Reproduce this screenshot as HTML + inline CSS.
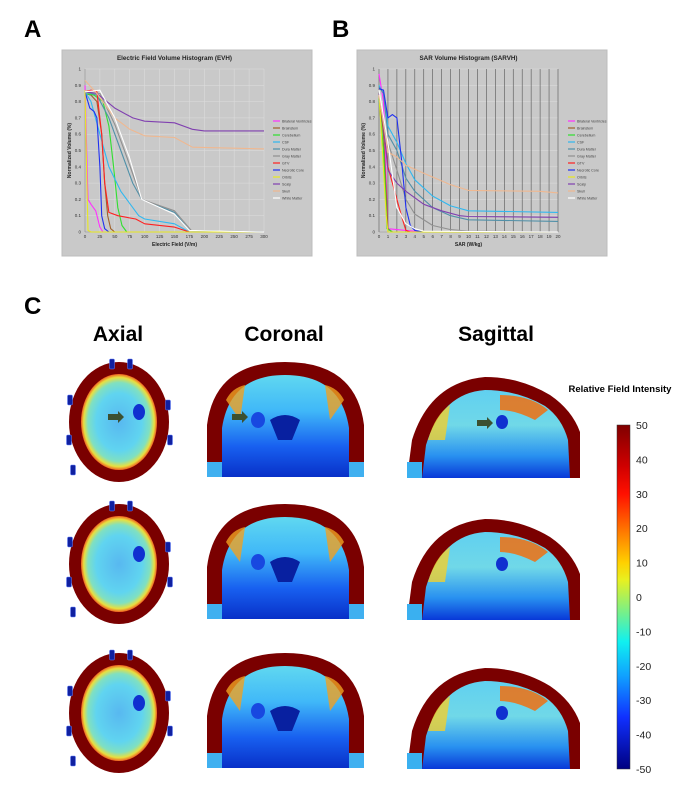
<!DOCTYPE html>
<html><head><meta charset="utf-8">
<style>
body{margin:0;background:#fff;width:700px;height:795px;overflow:hidden;font-family:"Liberation Sans",sans-serif;}
svg{display:block}
</style></head>
<body>
<svg id="root" width="700" height="795" viewBox="0 0 700 795" xmlns="http://www.w3.org/2000/svg">
<defs>
<linearGradient id="jet" x1="0" y1="0" x2="0" y2="1">
<stop offset="0" stop-color="#800000"/><stop offset="0.12" stop-color="#d00000"/><stop offset="0.2" stop-color="#ff1000"/>
<stop offset="0.3" stop-color="#ff7000"/><stop offset="0.4" stop-color="#ffd000"/><stop offset="0.45" stop-color="#e8f020"/>
<stop offset="0.55" stop-color="#70f090"/><stop offset="0.63" stop-color="#10f0f0"/><stop offset="0.73" stop-color="#10a0ff"/>
<stop offset="0.85" stop-color="#1030ff"/><stop offset="1" stop-color="#000080"/>
</linearGradient>
<radialGradient id="axg" cx="0.5" cy="0.5" r="0.5">
<stop offset="0" stop-color="#58b8f0"/><stop offset="0.6" stop-color="#60d4f0"/><stop offset="0.82" stop-color="#80e0c0"/><stop offset="0.93" stop-color="#e8e040"/><stop offset="1" stop-color="#f06020"/>
</radialGradient>
<linearGradient id="cog" x1="0" y1="0" x2="0" y2="1">
<stop offset="0" stop-color="#60d8f0"/><stop offset="0.35" stop-color="#40b8f8"/><stop offset="0.7" stop-color="#1860f0"/><stop offset="1" stop-color="#0830c8"/>
</linearGradient>
<linearGradient id="sag" x1="0" y1="0" x2="0" y2="1">
<stop offset="0" stop-color="#60d0f0"/><stop offset="0.4" stop-color="#70d8e8"/><stop offset="0.75" stop-color="#2890f0"/><stop offset="1" stop-color="#0838d8"/>
</linearGradient>
</defs>

<text x="24" y="37" font-size="24" font-weight="bold">A</text>
<text x="332" y="37" font-size="24" font-weight="bold">B</text>
<text x="24" y="314" font-size="24" font-weight="bold">C</text>

<g id="chartA"></g>
<g id="chartB"></g>

<text x="118" y="341" font-size="21" font-weight="bold" text-anchor="middle">Axial</text>
<text x="284" y="341" font-size="21" font-weight="bold" text-anchor="middle">Coronal</text>
<text x="496" y="341" font-size="21" font-weight="bold" text-anchor="middle">Sagittal</text>
<text x="620" y="392" font-size="9.5" font-weight="bold" text-anchor="middle">Relative Field Intensity</text>

<g id="brains"></g>

<rect x="617" y="425" width="13" height="344" fill="url(#jet)" stroke="#333" stroke-width="0.5"/>
<g id="cbticks"></g>
</svg>
<script>
const NS="http://www.w3.org/2000/svg";
function mk(p,tag,attrs,txt){const e=document.createElementNS(NS,tag);for(const k in attrs)e.setAttribute(k,attrs[k]);if(txt!==undefined)e.textContent=txt;p.appendChild(e);return e;}

const seriesNames=["Bilateral Ventricles","Brainstem","Cerebellum","CSF","Dura Matter","Gray Matter","GTV","Necrotic Core","Orbits","Scalp","Skull","White Matter"];
const seriesColors=["#ff30ff","#a0602a","#30e030","#30b8f0","#5090a8","#909090","#ff2020","#2030f0","#e8e820","#8040b0","#f0b890","#ffffff"];

const evhX=[
[0,5,10,18,25,30,300],
[0,10,20,28,33,38,43,50,300],
[0,15,30,40,48,55,62,70,300],
[0,10,25,40,60,90,100,150,175,300],
[0,20,40,60,80,95,150,175,300],
[0,25,50,70,95,150,178,300],
[0,10,20,28,33,40,55,85,100,150,175,300],
[0,8,15,20,25,28,33,40,300],
[0,2,5,10,300],
[0,20,50,80,100,150,180,200,300],
[0,20,50,75,100,150,180,300],
[0,25,50,75,95,150,175,300]];
const evhY=[
[0.9,0.2,0.17,0.13,0.03,0,0],
[0.85,0.84,0.8,0.6,0.3,0.1,0.02,0,0],
[0.85,0.84,0.8,0.65,0.4,0.15,0.04,0,0],
[0.86,0.8,0.6,0.4,0.25,0.1,0.08,0.05,0,0],
[0.86,0.84,0.7,0.5,0.3,0.2,0.12,0.01,0],
[0.86,0.85,0.66,0.46,0.2,0.13,0.01,0],
[0.86,0.87,0.86,0.6,0.3,0.12,0.1,0.08,0.05,0.03,0,0],
[0.86,0.76,0.74,0.7,0.4,0.1,0.02,0,0],
[0.87,0.5,0.01,0,0],
[0.86,0.85,0.76,0.7,0.68,0.67,0.63,0.62,0.62],
[0.93,0.85,0.7,0.63,0.59,0.58,0.52,0.51],
[0.86,0.87,0.7,0.45,0.2,0.11,0.01,0]];
const evhTicks=[0,25,50,75,100,125,150,175,200,225,250,275,300];

const sarX=[
[0,0.5,1,2,3,5,20],
[0,0.5,1,1.5,20],
[0,0.5,0.9,1.5,20],
[0,0.5,1,2,3,4,6,8,10,20],
[0,0.5,1,2,3,4,6,8,10,20],
[0,1,2,3,4,6,8,10,20],
[0,0.5,1,2,2.5,3,3.5,20],
[0,0.5,1,1.5,2,2.5,3,3.5,4,5,20],
[0,0.8,1,20],
[0,0.5,1,2,3,5,7,9,10,20],
[0,1,2,3,5,8,10,18,20],
[0,1,1.5,2,3,4,5,20]];
const sarY=[
[0.97,0.8,0.02,0.015,0.01,0,0],
[0.85,0.6,0.02,0,0],
[0.82,0.5,0.02,0,0],
[0.9,0.85,0.65,0.55,0.42,0.32,0.22,0.16,0.13,0.12],
[0.89,0.85,0.6,0.5,0.33,0.25,0.15,0.1,0.075,0.065],
[0.83,0.55,0.38,0.2,0.11,0.04,0.015,0.005,0],
[0.85,0.65,0.4,0.2,0.1,0.01,0,0],
[0.88,0.87,0.7,0.72,0.7,0.45,0.15,0.04,0.01,0,0],
[0.85,0.1,0,0],
[0.85,0.65,0.38,0.3,0.25,0.17,0.13,0.1,0.095,0.09],
[0.84,0.49,0.46,0.41,0.36,0.29,0.255,0.25,0.24],
[0.87,0.55,0.35,0.15,0.05,0.02,0.005,0]];
const sarTicks=[0,1,2,3,4,5,6,7,8,9,10,11,12,13,14,15,16,17,18,19,20];
const yTicks=[0,0.1,0.2,0.3,0.4,0.5,0.6,0.7,0.8,0.9,1];

function chart(g,o){
  mk(g,"rect",{x:o.bx,y:50,width:250,height:206,fill:"#c9c9c9",stroke:"#bdbdbd"});
  const x0=o.px,x1=o.px+179,y0=232,y1=69;
  const sx=v=>x0+(v-o.xmin)/(o.xmax-o.xmin)*(x1-x0);
  const sy=v=>y0+(v)*(y1-y0);
  mk(g,"text",{x:(x0+x1)/2,y:60,"font-size":6.3,"font-weight":"bold","text-anchor":"middle",fill:"#222"},o.title);
  yTicks.forEach(t=>{
    const l=mk(g,"line",{x1:x0,x2:x1,y1:sy(t),y2:sy(t),stroke:o.hgrid,"stroke-width":0.5});
    
    const tx=mk(g,"text",{x:x0-4,y:sy(t)+1.5,"font-size":4.5,"text-anchor":"end",fill:"#333"},String(t));
    
  });
  o.ticks.forEach(t=>{
    const l=mk(g,"line",{x1:sx(t),x2:sx(t),y1:y0,y2:y1,stroke:o.vgrid,"stroke-width":o.vw});
    
    const tx=mk(g,"text",{x:sx(t),y:y0+6,"font-size":4.5,"text-anchor":"middle",fill:"#333"},String(t));
    
  });
  mk(g,"line",{x1:x0,x2:x1,y1:y0,y2:y0,stroke:"#888","stroke-width":0.6});
  mk(g,"line",{x1:x0,x2:x0,y1:y0,y2:y1,stroke:"#888","stroke-width":0.6});
  const xt=mk(g,"text",{x:(x0+x1)/2,y:y0+14,"font-size":5,"font-weight":"bold","text-anchor":"middle",fill:"#222"},o.xlabel);
  
  const yt=mk(g,"text",{x:0,y:0,"font-size":5,"font-weight":"bold","text-anchor":"middle",fill:"#222",transform:`translate(${x0-14},${(y0+y1)/2}) rotate(-90)`},"Normalized Volume (%)");
  
  o.X.forEach((xs,i)=>{
    const d=xs.map((v,j)=>(j?"L":"M")+sx(v).toFixed(1)+","+sy(o.Y[i][j]).toFixed(1)).join(" ");
    const p=mk(g,"path",{d:d,fill:"none",stroke:seriesColors[i],"stroke-width":1.1,"stroke-linejoin":"round"});
    
  });
  seriesNames.forEach((n,i)=>{
    const y=121+i*7;
    const l=mk(g,"line",{x1:o.bx+211,x2:o.bx+218,y1:y,y2:y,stroke:seriesColors[i],"stroke-width":1.2});
    
    const t=mk(g,"text",{x:o.bx+220,y:y+1.3,"font-size":3.6,fill:"#444"},n);
    
  });
}
chart(document.getElementById("chartA"),{bx:62,px:85,xmin:0,xmax:300,ticks:evhTicks,X:evhX,Y:evhY,title:"Electric Field Volume Histogram (EVH)",xlabel:"Electric Field (V/m)",hgrid:"#dedede",vgrid:"#dedede",vw:0.5});
chart(document.getElementById("chartB"),{bx:357,px:379,xmin:0,xmax:20,ticks:sarTicks,X:sarX,Y:sarY,title:"SAR Volume Histogram (SARVH)",xlabel:"SAR (W/kg)",hgrid:"#dedede",vgrid:"#555",vw:0.6});

// field maps
const B=document.getElementById("brains");
const rowOff=[0,142,291];
rowOff.forEach(dy=>{
  const g=mk(B,"g",{transform:`translate(0,${dy})`});
  
  // axial
  const a=mk(g,"ellipse",{cx:119,cy:422,rx:50,ry:60,fill:"#7a0000"});
  
  const ai=mk(g,"ellipse",{cx:119,cy:422,rx:38,ry:48,fill:"url(#axg)"});
  
  mk(g,"ellipse",{cx:139,cy:412,rx:6,ry:8,fill:"#1030d0"});
  [[70,400],[69,440],[73,470],[168,405],[170,440],[112,364],[130,364]].forEach(p=>{
    const r=mk(g,"rect",{x:p[0]-2.5,y:p[1]-5,width:5,height:10,fill:"#1020a0",stroke:"#6080ff","stroke-width":0.5,rx:1});
    
  });
  // coronal
  const c=mk(g,"path",{d:"M207,477 L207,425 Q215,362 285,362 Q356,362 364,425 L364,477 Z",fill:"#7a0000"});
  
  const ci=mk(g,"path",{d:"M222,477 L222,428 Q230,375 285,375 Q341,375 349,428 L349,477 Z",fill:"url(#cog)"});
  
  mk(g,"rect",{x:207,y:462,width:15,height:15,fill:"#40b0f0"});
  mk(g,"rect",{x:349,y:462,width:15,height:15,fill:"#40b0f0"});
  mk(g,"path",{d:"M226,400 Q232,388 245,385 L240,420 Z",fill:"#f0a020",opacity:0.8});
  mk(g,"path",{d:"M344,400 Q338,388 325,385 L330,420 Z",fill:"#f0a020",opacity:0.8});
  mk(g,"path",{d:"M270,420 Q285,410 300,420 L292,440 L278,440 Z",fill:"#0820a0"});
  mk(g,"ellipse",{cx:258,cy:420,rx:7,ry:8,fill:"#1848e0"});
  // sagittal
  const s=mk(g,"path",{d:"M407,478 L412,440 Q430,382 485,377 Q520,377 550,395 Q572,410 580,432 L580,478 Z",fill:"#7a0000"});
  
  const si=mk(g,"path",{d:"M422,478 L426,445 Q442,393 485,390 Q517,390 545,406 Q562,418 568,440 L570,478 Z",fill:"url(#sag)"});
  
  mk(g,"rect",{x:407,y:462,width:15,height:16,fill:"#3ab0f0"});
  mk(g,"path",{d:"M500,395 Q530,395 548,410 L535,420 Q515,410 500,410 Z",fill:"#f07010",opacity:0.85});
  mk(g,"path",{d:"M428,440 Q435,415 450,405 L445,440 Z",fill:"#f0d030",opacity:0.8});
  mk(g,"ellipse",{cx:502,cy:422,rx:6,ry:7,fill:"#1030d0"});
});
// arrows (row 1)
[[108,417],[232,417],[477,423]].forEach(p=>{
  const ar=mk(B,"path",{d:`M${p[0]},${p[1]-3} l10,0 l0,-3 l6,6 l-6,6 l0,-3 l-10,0 Z`,fill:"#3c5030"});
  
});
// colorbar ticks
const cbLabels=[50,40,30,20,10,0,-10,-20,-30,-40,-50];
const CB=document.getElementById("cbticks");
cbLabels.forEach((v,i)=>{
  const y=425+i*34.4;
  const t=mk(CB,"text",{x:636,y:y+4,"font-size":10.5,fill:"#222"},String(v));
  
});
</script>
</body></html>
